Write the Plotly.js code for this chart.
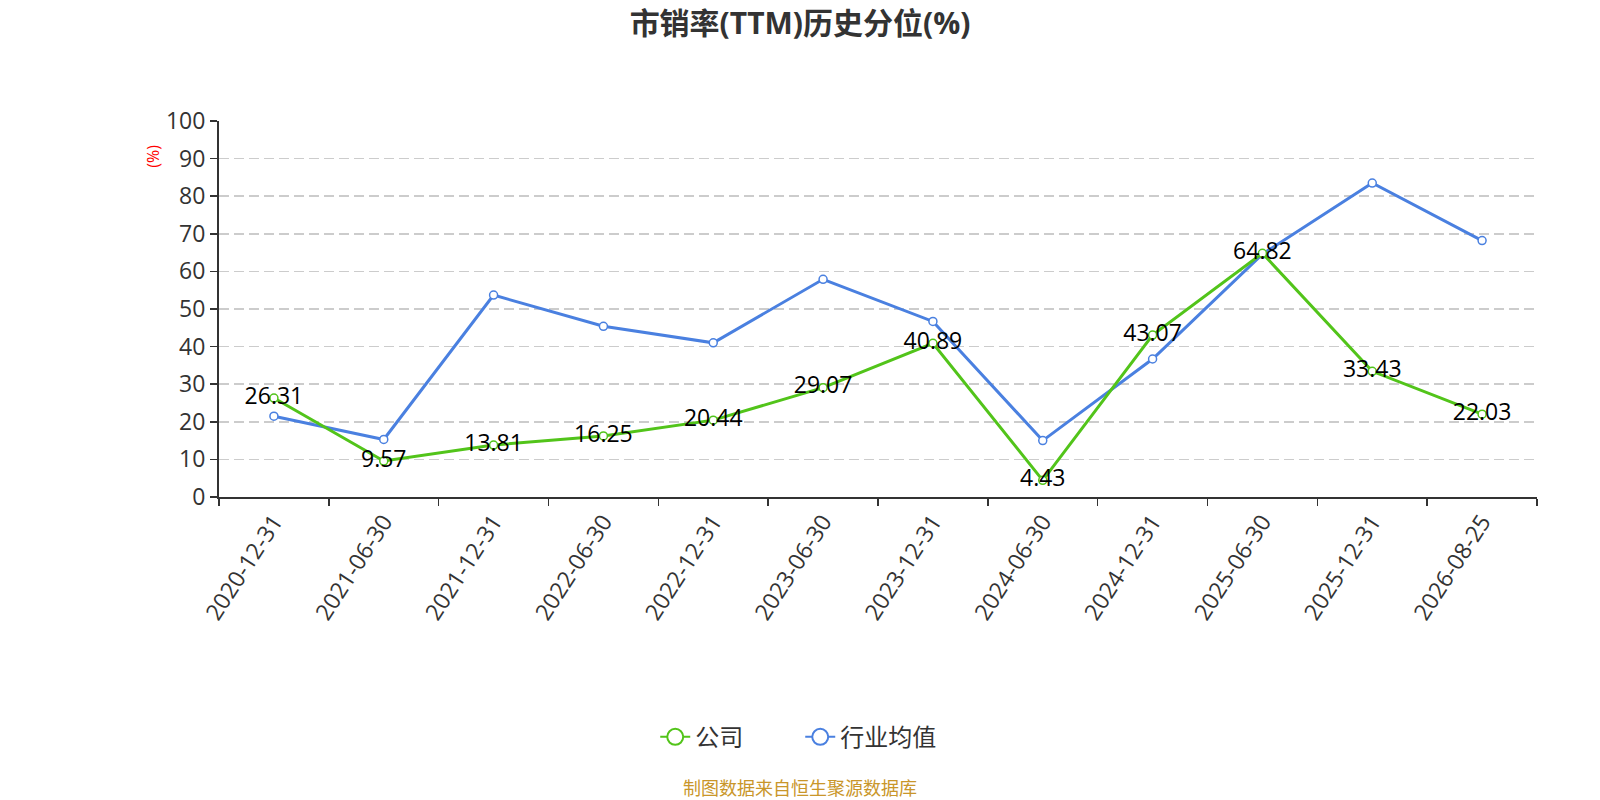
<!DOCTYPE html>
<html>
<head>
<meta charset="utf-8">
<script src="https://cdn.plot.ly/plotly-3.0.1.min.js"></script>
<style>
  body { margin: 0; background: #fff; }
  #chart { width: 1600px; height: 800px; }
</style>
</head>
<body>
<div id="chart"></div>
<script>
const dates = ['2020-12-31', '2021-06-30', '2021-12-31', '2022-06-30', '2022-12-31', '2023-06-30',
  '2023-12-31', '2024-06-30', '2024-12-31', '2025-06-30', '2025-12-31', '2026-08-25'];
const company = [26.31, 9.57, 13.81, 16.25, 20.44, 29.07, 40.89, 4.43, 43.07, 64.82, 33.43, 22.03];
const industry = [21.5, 15.3, 53.7, 45.4, 41.0, 57.9, 46.7, 15.0, 36.7, 64.6, 83.5, 68.2];

const font = '"Open Sans", "Noto Sans CJK SC", sans-serif';
const green = '#52c41a';
const blue = '#4a80e0';

const trace1 = {
  x: dates,
  y: company,
  name: '公司',
  type: 'scatter',
  mode: 'lines+markers+text',
  text: company.map(v => v.toFixed(2)),
  textposition: 'middle center',
  textfont: { size: 23, color: '#000', family: font },
  line: { color: green, width: 3 },
  marker: { symbol: 'circle', size: 8, color: '#fff', line: { color: green, width: 1.5 } },
  cliponaxis: false,
  showlegend: false
};

const trace2 = {
  x: dates,
  y: industry,
  name: '行业均值',
  type: 'scatter',
  mode: 'lines+markers',
  line: { color: blue, width: 3 },
  marker: { symbol: 'circle', size: 8, color: '#fff', line: { color: blue, width: 1.5 } },
  cliponaxis: false,
  showlegend: false
};

// legend entries with bigger symbols
const legend1 = {
  x: [dates[0]], y: [null], name: '公司', type: 'scatter', mode: 'lines+markers',
  line: { color: green, width: 2 },
  marker: { symbol: 'circle', size: 16, color: '#fff', line: { color: green, width: 2 } }
};
const legend2 = {
  x: [dates[0]], y: [null], name: '行业均值', type: 'scatter', mode: 'lines+markers',
  line: { color: blue, width: 2 },
  marker: { symbol: 'circle', size: 16, color: '#fff', line: { color: blue, width: 2 } }
};

// company labels drawn above the industry line
const data = [trace2, trace1, legend1, legend2];

const layout = {
  width: 1600,
  height: 800,
  paper_bgcolor: '#fff',
  plot_bgcolor: '#fff',
  font: { family: font, color: '#333' },
  margin: { l: 219, r: 63, t: 121, b: 303, autoexpand: false },
  title: {
    text: '<b>市销率(TTM)历史分位(%)</b>',
    font: { size: 30, color: '#333', family: font },
    x: 0.5, xanchor: 'center',
    y: 0.971, yanchor: 'middle'
  },
  showlegend: true,
  legend: {
    orientation: 'h',
    x: 0.441, xanchor: 'center',
    y: -0.639, yanchor: 'middle',
    entrywidth: 100,
    font: { size: 24, color: '#333' }
  },
  xaxis: {
    type: 'category',
    range: [-0.5, 11.5],
    tickangle: -57,
    tickson: 'boundaries',
    ticks: 'outside',
    ticklen: 7,
    tickcolor: '#333',
    tickwidth: 1.5,
    tickfont: { size: 23, color: '#333' },
    showline: true,
    linecolor: '#333',
    linewidth: 2,
    showgrid: false,
    zeroline: false,
    fixedrange: true
  },
  yaxis: {
    range: [0, 100],
    dtick: 10,
    ticks: 'outside',
    ticklen: 7,
    tickcolor: '#333',
    tickwidth: 1.5,
    tickfont: { size: 23, color: '#333' },
    showline: true,
    linecolor: '#333',
    linewidth: 2,
    showgrid: true,
    gridcolor: '#ccc',
    griddash: '10px,5px',
    gridwidth: 1.5,
    zeroline: false,
    fixedrange: true
  },
  annotations: [
    {
      text: '(%)',
      xref: 'paper', yref: 'paper',
      x: -0.05, y: 0.905,
      xanchor: 'center', yanchor: 'middle',
      textangle: -90,
      showarrow: false,
      font: { size: 16, color: '#ff0000' }
    },
    {
      text: '制图数据来自恒生聚源数据库',
      xref: 'paper', yref: 'paper',
      x: 0.441, y: -0.772,
      xanchor: 'center', yanchor: 'middle',
      showarrow: false,
      font: { size: 18, color: '#c9962a', family: '"Noto Sans CJK SC", sans-serif' }
    }
  ]
};

Plotly.newPlot('chart', data, layout, { displayModeBar: false, staticPlot: true });
</script>
</body>
</html>
